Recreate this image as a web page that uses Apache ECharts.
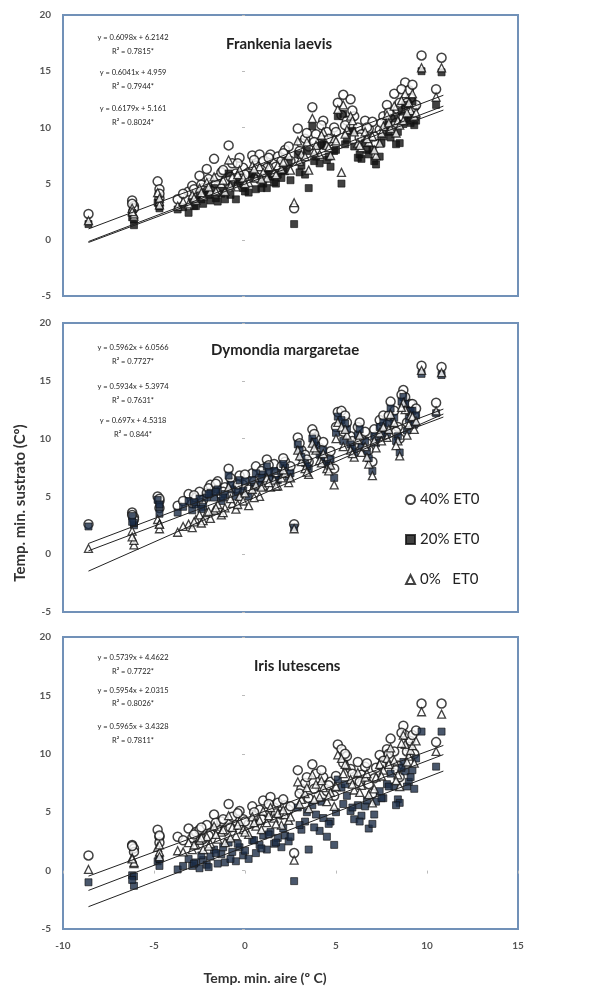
<!DOCTYPE html>
<html>
<head>
<meta charset="utf-8">
<script src="https://cdn.jsdelivr.net/npm/echarts@6/dist/echarts.min.js"></script>
<style>
  html, body { margin: 0; padding: 0; background: #fff; }
  #chart { width: 606px; height: 990px; }
</style>
</head>
<body>
<div id="chart"></div>
<script>
// temperatura mínima del aire (eje x), común a las tres especies
const airTemp = [
  -8.6, -6.2, -6.1, -4.8, -4.7, -4.7, -3.7, -3.1, -2.9, -2.7,
  -2.5, -2.3, -2.1, -1.9, -1.7, -1.5, -1.3, -1.1, -0.9, -0.7,
  -0.5, -0.3, -0.1, 0.2, 0.4, 0.6, 0.8, 1.0, 1.2, 1.4,
  1.6, 1.8, 2.0, 2.2, 2.4, 2.7, 2.9, 3.1, 3.3, 3.5,
  3.7, 3.9, 4.1, 4.3, 4.5, 4.7, 4.9, 5.1, 5.3, 5.4,
  5.6, 5.8, 6.0, 6.2, 6.4, 6.6, 6.8, 7.0, 7.2, 7.4,
  7.6, 7.8, 8.0, 8.2, 8.4, 8.5, 8.7, 8.8, 9.0, 9.1,
  9.3, 9.7, 10.5, 10.8,
  -3.4, -2.8, -2.4, -2.0, -1.6, -1.2, -0.8, -0.4, 0.0, 0.5, 0.9, 1.3,
  1.7, 2.1, 2.5, 3.0, 3.4, 3.8, 4.2, 4.6, 5.0, 5.5, 5.9, 6.3,
  6.7, 7.1, 7.5, 7.9, 8.3, 8.6, 8.9, 9.2, 9.4, -6.1, -4.7, -6.2
];

// Frankenia laevis
const frankenia40 = [
  2.3, 3.5, 3.0, 5.2, 4.5, 3.7, 3.6, 4.3, 4.8, 4.0,
  5.7, 4.6, 6.3, 5.1, 7.2, 5.5, 6.0, 5.2, 8.4, 6.8,
  5.9, 7.3, 6.4, 6.0, 7.5, 6.6, 7.6, 7.0, 6.4, 7.6,
  6.9, 7.4, 7.0, 8.0, 8.3, 2.8, 9.9, 8.6, 9.0, 8.3,
  11.8, 9.4, 8.5, 10.6, 9.6, 8.8, 10.0, 12.2, 11.1, 12.9,
  10.6, 12.5, 11.0, 10.0, 9.4, 10.6, 9.9, 10.5, 8.6, 9.8,
  11.0, 12.0, 10.8, 13.0, 11.6, 12.2, 10.9, 14.0, 13.3, 12.6,
  11.8, 16.4, 13.4, 16.2,
  4.1, 4.5, 4.9, 5.4, 5.0, 6.2, 5.6, 6.8, 5.8, 7.1, 6.2, 7.3,
  6.5, 7.7, 7.0, 7.9, 9.5, 8.7, 10.2, 9.0, 9.6, 10.2, 11.5, 9.1,
  10.0, 9.2, 10.4, 11.3, 10.4, 13.4, 12.2, 13.8, 12.0, 2.8, 4.1, 3.2
];
const frankenia20 = [
  1.4, 2.4, 1.3, 3.3, 2.8, 3.0, 2.7, 2.4, 3.4, 3.0,
  3.8, 3.2, 4.2, 3.5, 4.6, 3.4, 4.1, 3.6, 5.9, 4.8,
  3.6, 5.2, 4.6, 4.2, 5.8, 4.5, 5.4, 5.0, 4.6, 5.6,
  5.1, 5.8, 5.5, 6.1, 6.8, 1.4, 7.6, 6.6, 5.8, 4.6,
  10.1, 7.4, 6.8, 8.5, 7.1, 6.5, 7.9, 11.0, 5.0, 11.2,
  8.9, 9.6, 8.3, 7.3, 7.2, 8.6, 7.6, 8.0, 6.7, 7.4,
  9.2, 10.2, 9.1, 10.8, 9.6, 8.6, 10.3, 12.0, 11.0, 10.4,
  10.2, 15.0, 12.0, 14.9,
  2.9, 3.0, 3.6, 4.0, 3.7, 4.4, 4.0, 5.0, 4.3, 5.5, 4.6, 5.8,
  5.0, 6.2, 5.3, 6.0, 7.9, 7.0, 8.4, 7.4, 8.0, 8.5, 9.7, 7.6,
  8.0, 7.0, 8.6, 9.6, 8.5, 11.4, 10.6, 12.3, 10.6, 1.8, 3.3, 2.0
];
const frankenia0 = [
  1.7, 2.8, 2.1, 4.2, 3.4, 3.1, 3.0, 3.2, 4.0, 3.5,
  4.6, 3.9, 5.1, 4.3, 5.6, 4.4, 5.0, 4.3, 7.1, 5.6,
  4.7, 6.2, 5.5, 5.1, 6.6, 5.5, 6.5, 6.0, 5.5, 6.5,
  6.0, 6.6, 6.3, 7.0, 7.5, 3.3, 8.8, 7.6, 7.4, 6.2,
  10.8, 8.4, 7.6, 9.6, 8.4, 7.5, 9.0, 11.6, 6.0, 12.0,
  9.8, 11.0, 9.6, 8.6, 8.2, 9.6, 8.7, 9.2, 7.5, 8.6,
  10.1, 11.1, 9.9, 11.9, 10.6, 10.2, 10.6, 13.0, 12.2, 11.5,
  11.0, 15.3, 12.7, 15.3,
  3.4, 3.7, 4.2, 4.7, 4.3, 5.3, 4.8, 5.8, 5.0, 6.3, 5.4, 6.5,
  5.8, 6.9, 6.2, 7.0, 8.7, 7.8, 9.3, 8.2, 8.8, 9.4, 10.6, 8.4,
  9.0, 8.0, 9.5, 10.4, 9.5, 12.4, 11.3, 13.0, 11.3, 2.3, 3.7, 2.5
];

// Dymondia margaretae
const dymondia40 = [
  2.6, 3.6, 3.2, 5.0, 4.6, 4.0, 4.2, 5.2, 4.4, 4.9,
  5.4, 4.7, 5.3, 6.0, 5.5, 6.3, 5.1, 5.8, 7.4, 6.2,
  5.7, 6.8, 6.0, 5.6, 7.0, 7.6, 6.6, 7.4, 8.2, 7.1,
  7.8, 6.9, 7.6, 8.0, 7.2, 2.6, 10.1, 9.0, 8.6, 8.0,
  10.8, 10.0, 9.2, 9.7, 8.4, 8.9, 7.4, 12.3, 12.4, 10.6,
  11.4, 10.2, 9.5, 11.0, 10.0, 10.6, 9.0, 8.0, 10.2, 11.6,
  12.0, 11.2, 13.2, 12.4, 11.0, 10.0, 14.2, 13.6, 12.4, 13.0,
  12.0, 16.3, 13.1, 16.2,
  4.6, 5.1, 4.4, 5.7, 6.1, 5.4, 6.6, 6.0, 6.9, 6.3, 7.2, 7.7,
  7.0, 8.3, 7.6, 9.6, 8.2, 10.4, 9.0, 8.2, 11.0, 12.0, 9.8, 11.4,
  9.6, 10.8, 11.0, 12.0, 10.6, 13.8, 11.4, 13.0, 12.6, 3.0, 4.8, 3.4
];
const dymondia20 = [
  2.4, 3.3, 2.5, 4.7, 4.1, 3.5, 3.6, 4.6, 3.8, 4.3,
  4.8, 4.1, 4.9, 5.3, 4.9, 5.6, 4.6, 5.2, 6.8, 5.6,
  5.0, 6.4, 5.5, 5.0, 6.4, 7.0, 6.0, 6.9, 7.6, 6.5,
  7.2, 6.4, 7.0, 7.5, 6.7, 2.3, 9.5, 8.4, 7.9, 7.4,
  10.0, 9.4, 8.6, 9.0, 7.8, 8.2, 6.6, 11.9, 11.6, 9.8,
  10.8, 9.5, 8.8, 10.3, 9.3, 9.8, 8.3, 7.2, 9.6, 11.0,
  11.4, 10.5, 12.6, 11.8, 10.2, 8.8, 13.6, 13.0, 11.7, 12.4,
  11.2, 15.6, 12.2, 15.5,
  4.1, 4.5, 3.9, 5.2, 5.4, 4.9, 6.0, 5.4, 6.3, 5.8, 6.6, 7.1,
  6.4, 7.8, 7.0, 9.0, 7.6, 9.7, 8.4, 7.6, 10.5, 11.3, 9.1, 10.8,
  8.9, 10.2, 10.3, 11.3, 9.8, 13.2, 10.7, 12.4, 12.0, 2.7, 4.3, 2.8
];
const dymondia0 = [
  0.5, 2.0, 0.8, 3.0, 2.2, 2.6, 1.9, 2.6, 2.3, 3.0,
  3.4, 2.9, 3.6, 3.1, 3.8, 4.3, 3.4, 4.0, 5.8, 4.4,
  3.9, 5.0, 4.6, 4.2, 5.6, 6.0, 5.0, 5.9, 6.6, 5.8,
  6.4, 5.9, 6.6, 7.0, 6.2, 2.2, 9.0, 8.0, 7.4, 6.9,
  9.6, 9.0, 8.1, 8.7, 7.4, 7.7, 6.0, 11.4, 11.0, 9.3,
  10.3, 9.0, 8.4, 9.9, 8.8, 9.3, 7.8, 6.8, 9.2, 10.5,
  11.0, 10.1, 12.1, 11.4, 9.8, 8.5, 13.1, 12.5, 11.2, 12.0,
  10.8, 15.9, 12.4, 15.7,
  2.4, 2.8, 2.7, 3.7, 4.0, 3.6, 4.8, 4.3, 5.3, 4.9, 5.8, 6.2,
  5.9, 7.3, 6.6, 8.5, 7.1, 9.2, 7.9, 7.2, 10.0, 10.8, 8.7, 10.3,
  8.4, 9.8, 9.8, 10.8, 9.4, 12.7, 10.3, 11.9, 11.5, 1.2, 2.6, 1.5
];

// Iris lutescens
const iris40 = [
  1.3, 2.2, 1.9, 3.5, 2.9, 2.4, 2.9, 3.6, 2.8, 3.3,
  3.5, 2.7, 3.9, 3.2, 4.8, 3.6, 4.2, 3.4, 5.7, 4.6,
  3.9, 5.1, 4.4, 4.0, 5.5, 4.7, 5.2, 6.0, 5.0, 6.3,
  5.4, 5.8, 4.8, 5.6, 5.2, 1.5, 8.6, 7.0, 7.5, 6.2,
  9.1, 8.3, 7.2, 8.0, 6.8, 7.6, 6.4, 10.8, 10.4, 9.2,
  9.8, 8.7, 7.8, 9.3, 8.2, 8.9, 7.4, 6.6, 8.8, 9.9,
  9.4, 10.4, 11.3, 10.2, 9.0, 8.0, 12.4, 11.6, 10.6, 11.1,
  10.0, 14.3, 11.0, 14.3,
  2.6, 3.1, 3.7, 3.0, 4.1, 4.4, 3.7, 4.9, 4.2, 5.0, 4.4, 5.7,
  4.9, 6.1, 5.5, 6.6, 8.0, 7.0, 8.6, 7.3, 8.1, 10.0, 8.3, 7.6,
  9.2, 7.9, 9.0, 10.0, 8.6, 11.8, 10.2, 11.6, 12.0, 1.6, 3.0, 2.1
];
const iris20 = [
  -1.0, -0.4, -1.3, 0.8, 0.4, 1.0, 0.1, 1.0, 0.4, 0.7,
  0.2, 0.9, 0.5, 1.2, 1.8, 0.6, 1.4, 0.7, 2.4, 1.6,
  0.8, 2.0, 1.3, 1.0, 2.6, 1.5, 2.2, 3.0, 1.8, 3.3,
  2.3, 2.8, 2.0, 3.0, 2.5, -0.9, 5.4, 3.5, 4.2, 1.8,
  5.6, 4.8, 3.4, 4.5, 2.9, 4.2, 2.2, 7.8, 7.1, 5.7,
  6.4, 5.1, 4.4, 5.6, 4.7, 5.5, 3.6, 4.0, 5.9, 6.8,
  6.2, 7.4, 8.3, 7.2, 6.1, 5.8, 9.3, 8.5, 7.6, 8.0,
  7.0, 11.9, 8.9, 11.9,
  0.4, 0.6, 1.3, 0.3, 1.5, 2.0, 1.0, 2.3, 1.7, 2.6, 1.9, 3.1,
  2.4, 3.6, 2.9, 3.9, 5.0, 3.7, 5.9, 4.0, 5.0, 7.4, 5.4, 4.2,
  6.0, 4.8, 6.2, 7.2, 5.6, 8.8, 7.2, 8.6, 9.6, -0.5, 1.0, -0.8
];
const iris0 = [
  0.1, 1.1, 0.6, 2.0, 1.6, 1.2, 1.7, 2.4, 1.8, 2.2,
  2.6, 1.8, 2.9, 2.3, 3.8, 2.7, 3.3, 2.4, 4.7, 3.7,
  3.0, 4.2, 3.5, 3.1, 4.6, 3.8, 4.3, 5.1, 4.1, 5.4,
  4.5, 4.9, 3.9, 4.8, 4.3, 0.9, 7.6, 6.1, 6.6, 5.3,
  8.2, 7.4, 6.3, 7.1, 5.9, 6.7, 5.5, 9.9, 9.6, 8.3,
  9.0, 7.8, 6.9, 8.4, 7.3, 8.0, 6.5, 5.8, 8.0, 9.1,
  8.6, 9.6, 10.5, 9.4, 8.2, 7.2, 11.6, 10.8, 9.8, 10.3,
  9.2, 13.6, 10.2, 13.4,
  1.6, 2.2, 2.8, 2.1, 3.1, 3.5, 2.8, 3.9, 3.3, 4.1, 3.5, 4.7,
  4.0, 5.2, 4.6, 5.7, 7.1, 6.1, 7.7, 6.4, 7.2, 9.1, 7.4, 6.7,
  8.3, 7.0, 8.1, 9.1, 7.7, 10.9, 9.3, 10.7, 11.1, 0.7, 2.2, 1.0
];

// rectas de regresión [pendiente, ordenada] para 40%, 20% y 0% ETo
const frankeniaFit = [[0.6098, 6.2142], [0.6041, 4.959], [0.6179, 5.161]];
const dymondiaFit = [[0.5962, 6.0566], [0.5934, 5.3974], [0.697, 4.5318]];
const irisFit = [[0.5739, 4.4622], [0.5954, 2.0315], [0.5965, 3.4328]];
const fitRange = [-8.6, 10.9];

const frankeniaEq = ['y = 0.6098x + 6.2142', 'R² = 0.7815*', 'y = 0.6041x + 4.959', 'R² = 0.7944*', 'y = 0.6179x + 5.161', 'R² = 0.8024*'];
const dymondiaEq = ['y = 0.5962x + 6.0566', 'R² = 0.7727*', 'y = 0.5934x + 5.3974', 'R² = 0.7631*', 'y = 0.697x + 4.5318', 'R² = 0.844*'];
const irisEq = ['y = 0.5739x + 4.4622', 'R² = 0.7722*', 'y = 0.5954x + 2.0315', 'R² = 0.8026*', 'y = 0.5965x + 3.4328', 'R² = 0.7811*'];

const speciesNames = ['Frankenia laevis', 'Dymondia margaretae', 'Iris lutescens'];
const treatmentNames = ['40% ET0', '20% ET0', '0%   ET0'];
const yTicks = [-5, 0, 5, 10, 15, 20];
const xTicks = [-10, -5, 0, 5, 10, 15];

const panels = [
  { values: [frankenia40, frankenia20, frankenia0], fit: frankeniaFit, eq: frankeniaEq, top: 15, height: 281, titleX: 221, titleY: 32, eqY: [38, 52, 73, 87, 109, 123], sq: '#111111' },
  { values: [dymondia40, dymondia20, dymondia0], fit: dymondiaFit, eq: dymondiaEq, top: 323, height: 289, titleX: 206, titleY: 338, eqY: [348, 362, 387, 401, 421, 435], sq: '#1b2d47' },
  { values: [iris40, iris20, iris0], fit: irisFit, eq: irisEq, top: 637, height: 292, titleX: 249, titleY: 654, eqY: [658, 672, 691, 704, 727, 741], sq: '#1b2d47' }
];

const font = 'Lato, "Open Sans", sans-serif';
const grids = [], xAxes = [], yAxes = [], series = [], titles = [], graphics = [];

panels.forEach((p, i) => {
  grids.push({ left: 63, top: p.top, width: 455, height: p.height, show: true, borderColor: '#7191b8', borderWidth: 2, backgroundColor: '#fff' });
  xAxes.push({
    gridIndex: i, type: 'value', min: xTicks[0], max: xTicks[xTicks.length - 1], interval: 5,
    axisLine: { show: false }, splitLine: { show: false },
    axisTick: { show: i === 2, length: 3, lineStyle: { color: '#bbb' } },
    axisLabel: { show: i === 2, margin: 12, fontSize: 10, fontWeight: 'bold', color: '#555', fontFamily: font }
  });
  yAxes.push({
    gridIndex: i, type: 'value', min: yTicks[0], max: yTicks[yTicks.length - 1], interval: 5,
    axisLine: { show: false }, splitLine: { show: false },
    axisTick: { show: true, length: 3, lineStyle: { color: '#bbb' } },
    axisLabel: { margin: 12, fontSize: 10, fontWeight: 'bold', color: '#555', fontFamily: font }
  });
  titles.push({
    text: speciesNames[i], left: p.titleX, top: p.titleY,
    textStyle: { fontSize: 15, fontWeight: 'bold', color: '#222', fontFamily: font }
  });

  const styles = [
    { symbol: 'circle', symbolSize: 9, itemStyle: { color: '#fff', borderColor: '#111', borderWidth: 1.5 } },
    { symbol: 'rect', symbolSize: 7, itemStyle: { color: p.sq, borderColor: '#111', borderWidth: 0.8 } },
    { symbol: 'triangle', symbolSize: 8, itemStyle: { color: '#fff', borderColor: '#111', borderWidth: 1.3 } }
  ];
  // orden de dibujo: cuadrados, triángulos, círculos encima
  [1, 2, 0].forEach((k) => {
    series.push(Object.assign({
      name: treatmentNames[k], type: 'scatter', xAxisIndex: i, yAxisIndex: i,
      data: airTemp.map((x, j) => [x, p.values[k][j]]), z: 3 + k,
      emphasis: { disabled: true }
    }, styles[k]));
  });
  p.fit.forEach(([m, b]) => {
    series.push({
      type: 'line', xAxisIndex: i, yAxisIndex: i, symbol: 'none', silent: true, z: 10,
      lineStyle: { color: '#222', width: 1 },
      data: fitRange.map((x) => [x, m * x + b])
    });
  });
  p.eq.forEach((t, j) => {
    graphics.push({
      type: 'text', x: 133, y: p.eqY[j],
      style: { text: t, textAlign: 'center', textVerticalAlign: 'middle', fontSize: 7.5, fill: '#222', fontFamily: font }
    });
  });
});

graphics.push({
  type: 'text', x: 20, y: 503, rotation: Math.PI / 2,
  style: { text: 'Temp. min. sustrato (Cº)', textAlign: 'center', textVerticalAlign: 'middle', fontSize: 15, fontWeight: 'bold', fill: '#333', fontFamily: font }
});
graphics.push({
  type: 'text', x: 265, y: 978,
  style: { text: 'Temp. min. aire (º C)', textAlign: 'center', textVerticalAlign: 'middle', fontSize: 14, fontWeight: 'bold', fill: '#333', fontFamily: font }
});

const option = {
  backgroundColor: '#fff',
  animation: false,
  title: titles,
  legend: {
    data: treatmentNames, orient: 'vertical', left: 400, top: 487, itemGap: 25,
    itemWidth: 9, itemHeight: 9,
    textStyle: { fontSize: 15, color: '#222', fontFamily: font }
  },
  grid: grids,
  xAxis: xAxes,
  yAxis: yAxes,
  series: series,
  graphic: graphics
};

const chart = echarts.init(document.getElementById('chart'));
chart.setOption(option);
</script>
</body>
</html>
